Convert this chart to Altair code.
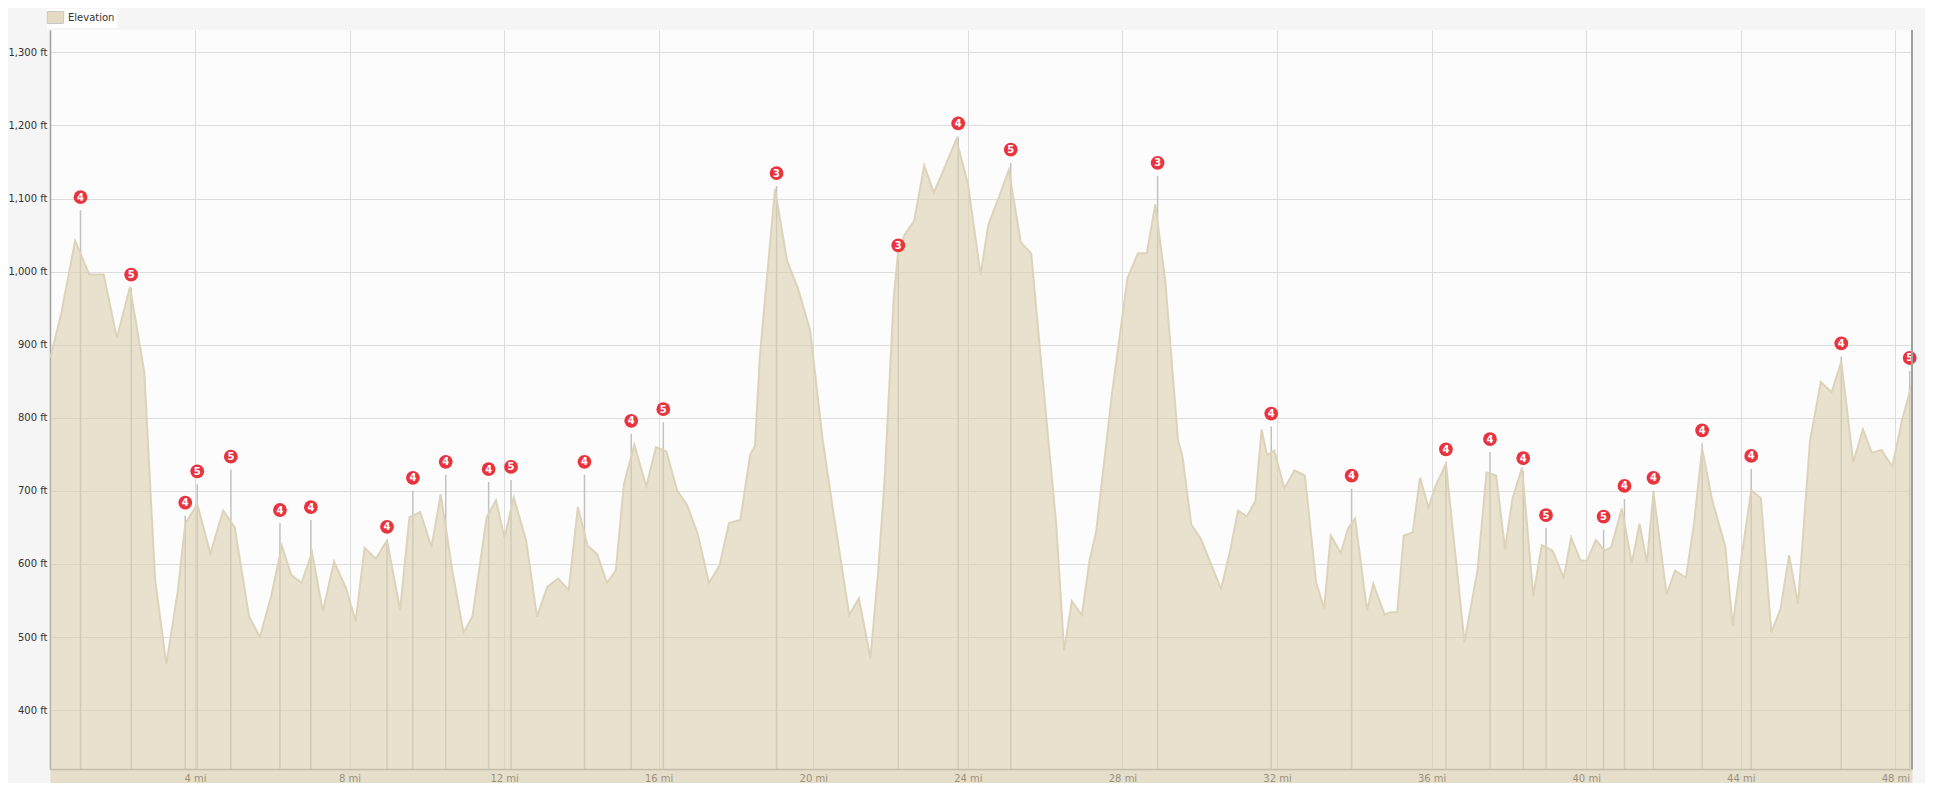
import altair as alt
import pandas as pd

# ---- elevation profile (miles, feet) ----
dist = [0.26, 0.55, 0.90, 1.27, 1.64, 1.98, 2.32, 2.69, 2.97, 3.26,
        3.55, 3.75, 4.06, 4.40, 4.73, 5.03, 5.40, 5.68, 5.97, 6.25,
        6.49, 6.76, 7.03, 7.31, 7.60, 7.91, 8.16, 8.39, 8.68, 8.97,
        9.31, 9.55, 9.83, 10.12, 10.36, 10.66, 10.95, 11.18, 11.55, 11.79,
        12.01, 12.25, 12.57, 12.85, 13.12, 13.40, 13.67, 13.91, 14.16, 14.41,
        14.66, 14.89, 15.10, 15.37, 15.68, 15.93, 16.20, 16.48, 16.73, 17.01,
        17.30, 17.57, 17.82, 18.11, 18.37, 18.49, 18.62, 19.01, 19.32, 19.61,
        19.92, 20.24, 20.53, 20.93, 21.18, 21.48, 21.68, 21.85, 22.08, 22.20,
        22.37, 22.61, 22.87, 23.12, 23.41, 23.70, 24.00, 24.33, 24.53, 24.79,
        25.06, 25.37, 25.64, 25.88, 26.29, 26.49, 26.69, 26.95, 27.15, 27.32,
        27.73, 28.13, 28.40, 28.63, 28.85, 29.11, 29.44, 29.55, 29.78, 30.03,
        30.55, 30.78, 30.99, 31.22, 31.44, 31.60, 31.74, 31.93, 32.19, 32.45,
        32.72, 33.01, 33.22, 33.39, 33.65, 33.84, 34.02, 34.33, 34.49, 34.78,
        34.94, 35.11, 35.28, 35.51, 35.70, 35.92, 36.09, 36.37, 36.85, 37.19,
        37.42, 37.67, 37.90, 38.09, 38.34, 38.63, 38.85, 39.13, 39.42, 39.61,
        39.85, 40.02, 40.25, 40.48, 40.65, 40.92, 41.18, 41.38, 41.57, 41.74,
        42.08, 42.30, 42.58, 42.79, 43.00, 43.26, 43.60, 43.79, 44.04, 44.27,
        44.52, 44.79, 45.03, 45.25, 45.48, 45.79, 46.07, 46.35, 46.60, 46.91,
        47.16, 47.39, 47.64, 47.92, 48.17, 48.44]

elev = [882, 945, 1042, 996, 996, 909, 979, 862, 578, 463,
        560, 655, 682, 614, 673, 650, 528, 500, 555, 625,
        585, 574, 616, 535, 603, 567, 521, 622, 607, 632,
        537, 664, 671, 623, 695, 591, 506, 528, 664, 687,
        636, 691, 632, 528, 569, 580, 564, 678, 625, 613,
        574, 591, 709, 763, 706, 760, 754, 700, 681, 641,
        574, 597, 656, 660, 750, 761, 885, 1113, 1015, 976,
        919, 771, 667, 530, 553, 471, 590, 719, 963, 1030,
        1051, 1069, 1145, 1108, 1144, 1181, 1121, 996, 1064, 1100,
        1139, 1040, 1025, 885, 652, 481, 549, 530, 605, 644,
        833, 991, 1025, 1025, 1092, 986, 768, 748, 654, 634,
        566, 616, 673, 665, 686, 784, 749, 755, 703, 728,
        721, 575, 539, 639, 615, 649, 662, 536, 573, 531,
        534, 534, 639, 643, 718, 677, 705, 737, 493, 592,
        725, 721, 620, 689, 732, 556, 626, 618, 581, 636,
        605, 604, 633, 618, 623, 676, 601, 655, 602, 698,
        558, 591, 581, 655, 758, 687, 624, 515, 617, 701,
        690, 506, 539, 612, 545, 768, 849, 835, 877, 739,
        784, 752, 756, 733, 796, 849]

# ---- climb markers (mile, summit elevation, category) ----
m_dist = [1.04, 2.35, 3.75, 4.06, 4.93, 6.20, 7.00, 8.97, 9.64, 10.49,
          11.60, 12.18, 14.08, 15.29, 16.12, 19.05, 22.20, 23.75, 25.11, 28.91,
          31.85, 33.93, 36.37, 37.51, 38.37, 38.96, 40.45, 40.99, 41.74, 43.00,
          44.27, 46.60, 48.37]
m_elev = [1084, 978, 666, 709, 729, 656, 660, 633, 700, 722,
          712, 715, 722, 778, 794, 1117, 1018, 1185, 1149, 1131,
          788, 703, 739, 753, 727, 649, 647, 689, 700, 765,
          730, 884, 864]
m_cat = [4, 5, 4, 5, 5, 4, 4, 4, 4, 4,
         4, 5, 4, 4, 5, 3, 3, 4, 5, 3,
         4, 4, 4, 4, 4, 5, 5, 4, 4, 4,
         4, 4, 5]

x_ticks = [4, 8, 12, 16, 20, 24, 28, 32, 36, 40, 44, 48]
y_ticks = [400, 500, 600, 700, 800, 900, 1000, 1100, 1200, 1300]

profile = pd.DataFrame({"dist": dist, "elev": elev, "series": ["Elevation"] * len(dist)})
climbs = pd.DataFrame({"dist": m_dist, "elev": m_elev, "cat": [str(c) for c in m_cat]})

W, H = 1862, 739
FONT = "DejaVu Sans"

x_scale = alt.Scale(domain=[0.25, 48.43], nice=False, zero=False)
y_scale = alt.Scale(domain=[319.4, 1330.6], nice=False, zero=False)

x_axis = alt.Axis(values=x_ticks, labelExpr="datum.value + ' mi'", title=None,
                  ticks=False, grid=True, gridColor="#dcdcdc", gridWidth=1,
                  domainColor="#a0a0a0", domainWidth=1.5, labelPadding=4,
                  labelFont=FONT, labelFontSize=10, labelColor="#333")
y_axis = alt.Axis(values=y_ticks, labelExpr="format(datum.value, ',') + ' ft'", title=None,
                  ticks=False, grid=True, gridColor="#dcdcdc", gridWidth=1,
                  domainColor="#a0a0a0", domainWidth=1.5, labelPadding=3,
                  labelFont=FONT, labelFontSize=10, labelColor="#333")

xe = alt.X("dist:Q", scale=x_scale, axis=x_axis)
ye = alt.Y("elev:Q", scale=y_scale, axis=y_axis)

rules = alt.Chart(climbs).mark_rule(color="#c2c2c2", strokeWidth=1.5).encode(
    x=xe, y=ye, y2=alt.value(H)
)

area = alt.Chart(profile).mark_area(opacity=0.6, interpolate="linear").encode(
    x=xe, y=ye,
    color=alt.Color("series:N", scale=alt.Scale(range=["#dbcfae"]),
                    legend=alt.Legend(orient="none", legendX=-3, legendY=-21, title=None,
                                      symbolType="M-1.35,-1H1.35V1H-1.35Z", symbolSize=144,
                                      symbolStrokeColor="#b8b8b8", symbolStrokeWidth=1,
                                      symbolOpacity=0.75, fillColor="white", padding=2,
                                      labelFont=FONT, labelFontSize=10, labelColor="#333",
                                      labelOffset=6)),
)

outline = alt.Chart(profile).mark_line(color="#ddd3ba", strokeWidth=2).encode(x=xe, y=ye)

dots = alt.Chart(climbs).mark_circle(color="#e8343e", size=190, opacity=1, yOffset=-13).encode(
    x=xe, y=ye
)
labels = alt.Chart(climbs).mark_text(color="white", font=FONT, fontSize=10, fontWeight="bold",
                                     baseline="middle", align="center", yOffset=-12.5).encode(
    x=xe, y=ye, text="cat:N"
)

frame = alt.Chart(climbs).mark_rule(color="#a0a0a0", strokeWidth=1.5).encode(
    x=alt.value(W), y=alt.value(0), y2=alt.value(H)
)

chart = alt.layer(rules, area, outline, dots, labels, frame).properties(
    width=W, height=H,
    padding={"left": 42, "top": 22, "right": 13, "bottom": 14},
    autosize=alt.AutoSizeParams(type="none"),
    background="#f5f5f5",
).configure_view(fill="#fcfcfc", stroke=None)

chart.save("out.html", embed_options={"renderer": "svg", "actions": False})
